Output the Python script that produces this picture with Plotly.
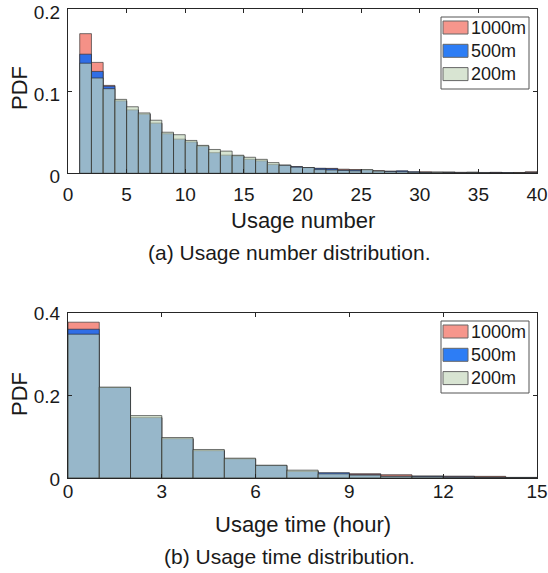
import plotly.graph_objects as go

# ---------------- data ----------------
num_bins = list(range(1, 40))  # left edges of bins [k, k+1)
num_1000 = [0.170, 0.135, 0.107, 0.088, 0.077, 0.072, 0.061, 0.048, 0.0415, 0.038,
            0.033, 0.025, 0.022, 0.021, 0.017, 0.015, 0.0106, 0.0098, 0.008, 0.007,
            0.006, 0.006, 0.005, 0.0045, 0.0035, 0.003, 0.0025, 0.0025, 0.0015, 0.0018,
            0.0016, 0.0017, 0.0012, 0.0014, 0.0010, 0.0012, 0.0008, 0.0010, 0.0020]
num_500 = [0.145, 0.124, 0.106, 0.088, 0.077, 0.072, 0.061, 0.048, 0.0415, 0.038,
           0.033, 0.025, 0.022, 0.021, 0.017, 0.015, 0.0106, 0.0098, 0.008, 0.007,
           0.006, 0.0055, 0.004, 0.004, 0.004, 0.0028, 0.0025, 0.003, 0.0018, 0.0012,
           0.0010, 0.0010, 0.0008, 0.0010, 0.0007, 0.0008, 0.0006, 0.0005, 0.0008]
num_200 = [0.134, 0.116, 0.103, 0.090, 0.081, 0.0735, 0.0646, 0.050, 0.047, 0.040,
           0.034, 0.029, 0.027, 0.022, 0.0195, 0.017, 0.013, 0.0098, 0.0075, 0.007,
           0.0045, 0.004, 0.0035, 0.003, 0.0045, 0.0028, 0.002, 0.002, 0.0012, 0.0010,
           0.0012, 0.0008, 0.0007, 0.0010, 0.0006, 0.0005, 0.0005, 0.0004, 0.0006]

time_bins = list(range(0, 15))  # left edges of bins [k, k+1) hours
time_1000 = [0.377, 0.219, 0.146, 0.095, 0.066, 0.046, 0.030, 0.016, 0.011, 0.0105,
             0.008, 0.005, 0.0045, 0.004, 0.0015]
time_500 = [0.360, 0.219, 0.146, 0.095, 0.066, 0.046, 0.030, 0.016, 0.013, 0.008,
            0.0045, 0.004, 0.003, 0.002, 0.001]
time_200 = [0.348, 0.220, 0.151, 0.098, 0.069, 0.048, 0.031, 0.019, 0.010, 0.007,
            0.004, 0.003, 0.002, 0.0015, 0.0008]

series_names = ["1000m", "500m", "200m"]
num_ticks = [0, 5, 10, 15, 20, 25, 30, 35, 40]
time_ticks = [0, 3, 6, 9, 12, 15]

# ---------------- style ----------------
W, H = 548, 573
L, R, T, B = 68, 11, 9, 95
FONT = "Liberation Sans, Arial, Helvetica, sans-serif"
TXT = "#1a1a1a"
bar_fill = ["rgb(245,145,135)", "rgb(48,110,230)", "rgba(197,216,190,0.69)"]
legend_fill = ["rgb(246,150,140)", "rgb(45,125,245)", "rgb(216,228,210)"]
edge = "rgba(40,40,40,0.7)"

plot_h = H - T - B


def py(p):
    return (H - B - p) / plot_h


def px(p):
    return (p - L) / (W - L - R)


fig = go.Figure()

for i, ys in enumerate([num_1000, num_500, num_200]):
    fig.add_trace(go.Bar(x=num_bins, y=ys, width=1, offset=0, name=series_names[i],
                         marker=dict(color=bar_fill[i], line=dict(color=edge, width=0.9)),
                         xaxis="x", yaxis="y", showlegend=False))
for i, ys in enumerate([time_1000, time_500, time_200]):
    fig.add_trace(go.Bar(x=time_bins, y=ys, width=1, offset=0, name=series_names[i],
                         marker=dict(color=bar_fill[i], line=dict(color=edge, width=0.9)),
                         xaxis="x2", yaxis="y2", showlegend=False))

axis_common = dict(showline=True, linecolor="#262626", linewidth=1, mirror="ticks",
                   ticks="inside", ticklen=4, tickcolor="#262626", tickwidth=1,
                   showgrid=False, zeroline=False, automargin=False,
                   ticklabeloverflow="allow",
                   tickfont=dict(family=FONT, size=19, color=TXT))

top_dom = [py(173.3), 1]
bot_dom = [0, py(312.7)]

fig.update_layout(
    width=W, height=H,
    margin=dict(l=L, r=R, t=T, b=B, autoexpand=False),
    paper_bgcolor="white", plot_bgcolor="white",
    barmode="overlay",
    xaxis=dict(axis_common, range=[0, 40], tickvals=num_ticks, anchor="y",
               ticklabelstandoff=4),
    yaxis=dict(axis_common, range=[0, 0.2], tickvals=[0, 0.1, 0.2],
               ticktext=["0", "0.1", "0.2"], domain=top_dom, anchor="x",
               ticklabelstandoff=3, ticklabelshift=3),
    xaxis2=dict(axis_common, range=[0, 15], tickvals=time_ticks, anchor="y2",
                ticklabelstandoff=-4),
    yaxis2=dict(axis_common, range=[0, 0.4], tickvals=[0, 0.2, 0.4],
                ticktext=["0", "0.2", "0.4"], domain=bot_dom, anchor="x2",
                ticklabelstandoff=3, ticklabelshift=1),
)

ann = []


def text(x, y, s, size=18, angle=0, xanchor="center"):
    ann.append(dict(x=px(x), y=py(y), xref="paper", yref="paper", text=s,
                    showarrow=False, xanchor=xanchor, yanchor="middle",
                    textangle=angle, font=dict(family=FONT, size=size, color=TXT)))


text(19, 88, "PDF", size=22, angle=-90)
text(19, 394, "PDF", size=22, angle=-90)
text(303, 220, "Usage number", size=22)
text(303, 524, "Usage time (hour)", size=22)
text(289, 252, "(a) Usage number distribution.", size=21)
text(289, 556, "(b) Usage time distribution.", size=21)

shapes = []


def legend(top):
    x0, x1 = 441, 529
    shapes.append(dict(type="rect", xref="paper", yref="paper",
                       x0=px(x0), x1=px(x1), y0=py(top + 72), y1=py(top),
                       line=dict(color="#555555", width=1), fillcolor="white"))
    for k in range(3):
        y0 = top + 4 + k * 23.3
        shapes.append(dict(type="rect", xref="paper", yref="paper",
                           x0=px(443), x1=px(468), y0=py(y0 + 13), y1=py(y0),
                           line=dict(color="#666666", width=1), fillcolor=legend_fill[k]))
        text(469, y0 + 6.5, series_names[k], size=18, xanchor="left")


legend(17)
legend(321)

fig.update_layout(annotations=ann, shapes=shapes)
fig.write_html("out.html", config={"displayModeBar": False},
               post_script="document.body.style.margin='0';document.body.style.overflow='hidden';")
